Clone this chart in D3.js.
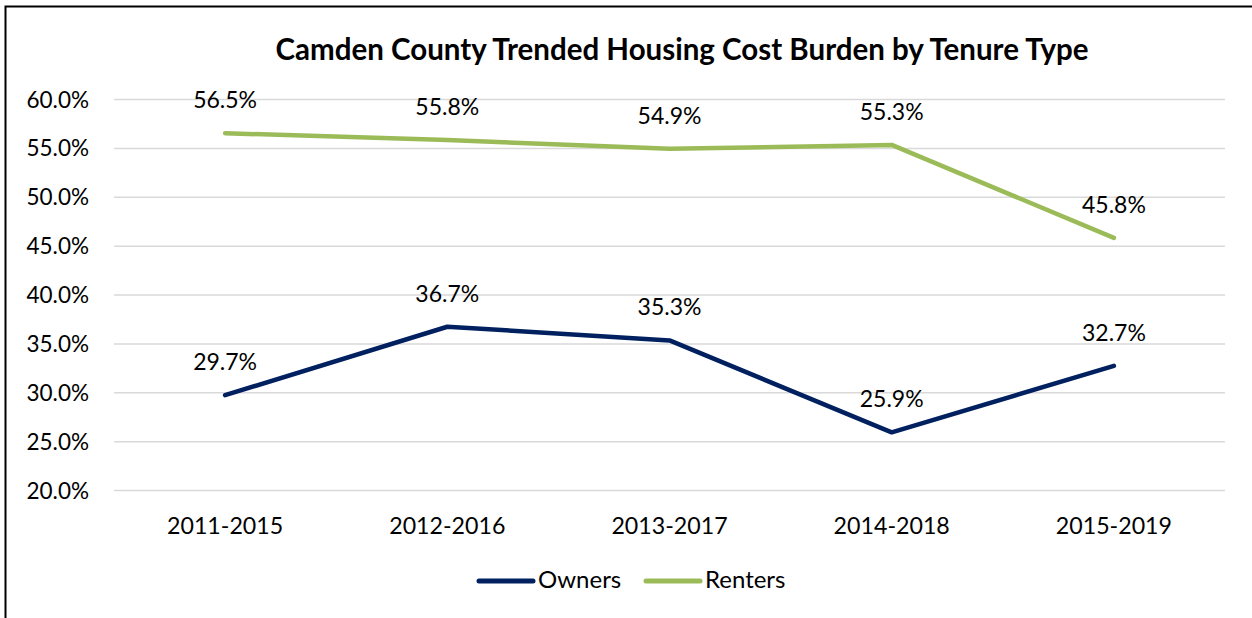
<!DOCTYPE html>
<html><head><meta charset="utf-8">
<script src="https://cdn.jsdelivr.net/npm/d3@7"></script>
<style>body{margin:0;background:#fff;} svg{display:block;}</style>
</head><body>
<svg id="c" width="1252" height="618"></svg>
<script>
const categories = ["2011-2015","2012-2016","2013-2017","2014-2018","2015-2019"];
const owners = [29.7, 36.7, 35.3, 25.9, 32.7];
const renters = [56.5, 55.8, 54.9, 55.3, 45.8];
const yTicks = [20,25,30,35,40,45,50,55,60];
const seriesNames = ["Owners","Renters"];
const seriesColors = ["#002060","#9BBB59"];

(function(){
const svg = d3.select("#c");
const font = "Lato, 'Open Sans', sans-serif";
svg.append("rect").attr("x",5.5).attr("y",6.5).attr("width",1300).attr("height",700)
  .attr("fill","#fff").attr("stroke","#000").attr("stroke-width",2);

const pl=114, pr=1225, pt=99, pb=490;
const x = d3.scaleBand().domain(categories).range([pl,pr]);
const y = d3.scaleLinear().domain([20,60]).range([pb,pt]);

svg.append("text").attr("x",682).attr("y",60).attr("text-anchor","middle")
  .attr("font-family",font).attr("font-weight","bold").attr("font-size",29.5).text("Camden County Trended Housing Cost Burden by Tenure Type");

const grid = svg.append("g").attr("transform",`translate(${pl},0)`)
  .call(d3.axisLeft(y).tickValues(yTicks).tickSize(-(pr-pl)).tickFormat(d=>d.toFixed(1)+"%").tickPadding(25));
grid.select(".domain").remove();
grid.selectAll(".tick line").attr("stroke","#d9d9d9").attr("stroke-width",1.5);
grid.selectAll(".tick text").attr("font-family",font).attr("font-size",22.5).attr("fill","#000").attr("dy",8);

const xa = svg.append("g").attr("transform",`translate(0,${pb})`).call(d3.axisBottom(x).tickSize(0));
xa.select(".domain").remove();
xa.selectAll(".tick text").attr("font-family",font).attr("font-size",23.2).attr("fill","#000").attr("y",44).attr("dy",0);

const line = d3.line().x((d,i)=>x(categories[i])+x.bandwidth()/2).y(d=>y(d));
[owners,renters].forEach((s,k)=>{
  svg.append("path").datum(s).attr("d",line).attr("fill","none").attr("stroke",seriesColors[k])
    .attr("stroke-width",4.5).attr("stroke-linecap","round").attr("stroke-linejoin","round");
  svg.selectAll(null).data(s).enter().append("text")
    .attr("x",(d,i)=>x(categories[i])+x.bandwidth()/2).attr("y",d=>y(d)-25)
    .attr("text-anchor","middle").attr("font-family",font).attr("font-size",23).text(d=>d.toFixed(1)+"%");
});

const lg = [{x:479,name:seriesNames[0],c:seriesColors[0]},{x:646,name:seriesNames[1],c:seriesColors[1]}];
lg.forEach(l=>{
  svg.append("line").attr("x1",l.x).attr("x2",l.x+54).attr("y1",581).attr("y2",581)
    .attr("stroke",l.c).attr("stroke-width",5).attr("stroke-linecap","round");
  svg.append("text").attr("x",l.x+59).attr("y",588).attr("font-family",font).attr("font-size",24).text(l.name);
});
})();
</script>
</body></html>
